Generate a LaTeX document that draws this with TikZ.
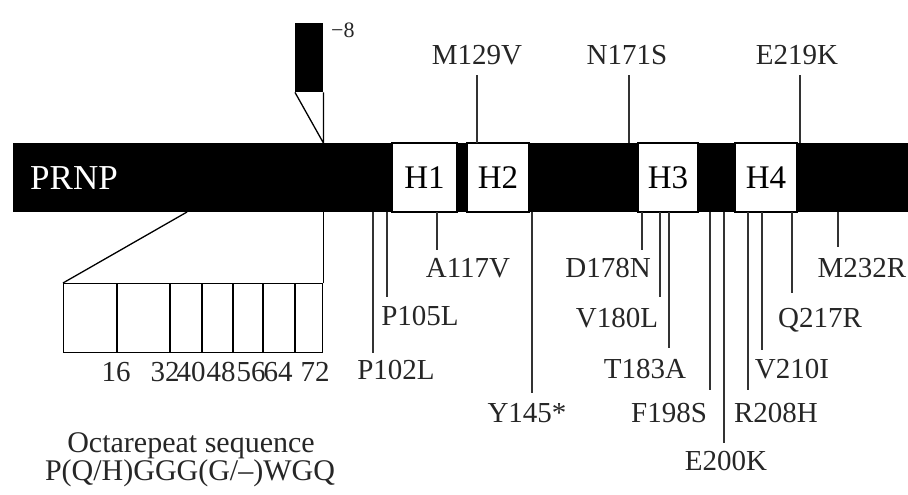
\documentclass[tikz,border=0pt]{standalone}
\usepackage{fontspec}
\setmainfont{Liberation Serif}
\tikzset{
  mutlabel/.style={inner sep=0pt, text height=20pt, text depth=0pt, text=black!85, font=\fontsize{29}{30}\selectfont},
  helix/.style={draw=black, fill=white, line width=1.5pt, minimum height=69pt, inner sep=0pt, font=\fontsize{33}{34}\selectfont},
  stalk/.style={line width=1.3pt, black!80},
  octtext/.style={inner sep=0pt, anchor=base, text height=21pt, text depth=0pt, text=black!85, font=\fontsize{30}{31}\selectfont},
}
\begin{document}
\begin{tikzpicture}[x=1pt,y=-1pt]
  \useasboundingbox (0,0) rectangle (908,495);
  % gene
  \node[fill=black, minimum width=895pt, minimum height=69pt, inner sep=0pt, anchor=north west] (bar) at (13,143) {};
  \node[text=white, inner sep=0pt, text height=22pt, text depth=0pt, font=\fontsize{35}{36}\selectfont] (prnp) at (74,178) {PRNP};
  \foreach \nm/\xa/\xb in {H1/392/457, H2/467/529, H3/638/698, H4/735/797}
    \node[helix, minimum width={\xb-\xa}] (\nm) at ({(\xa+\xb)/2},177.5) {\nm};
  % signal peptide
  \node[fill=black, minimum width=28pt, minimum height=69pt, inner sep=0pt, anchor=north west] (sig) at (295,23) {};
  \node[inner sep=0pt, text height=14pt, text depth=0pt, anchor=west, text=black!85, font=\fontsize{22}{23}\selectfont] (sigpos) at (331,31) {−8};
  \draw[line width=1.3pt] (sig.south west) -- (sig.south east |- bar.north) -- (sig.south east);
  % octarepeats
  \coordinate (octstart) at (187,212);
  \node[draw, line width=1.3pt, minimum width=259pt, minimum height=69pt, inner sep=0pt, anchor=north west] (oct) at (63,283) {};
  \draw[line width=1.3pt] (octstart) -- (oct.north west);
  \draw[line width=1.3pt] (oct.north east) -- (oct.north east |- bar.south);
  \foreach \x in {117,170,202,233,263,295}
    \draw[line width=1.3pt] (\x,283) -- (\x,352);
  \foreach \n/\x in {16/116,32/165,40/191,48/221,56/251,64/278,72/315}
    \node[mutlabel] (rep\n) at (\x,371) {\n};
  \node[octtext] (octname) at (191,452) {Octarepeat sequence};
  \node[octtext, text depth=5pt] (octseq) at (190,480) {P(Q/H)GGG(G/–)WGQ};
  % mutations above
  \foreach \nm/\x/\lx in {M129V/477/477, N171S/629/627, E219K/800/797}{
    \node[mutlabel] (\nm) at (\lx,55) {\nm};
    \coordinate (\nm-top) at (\x,143);
    \coordinate (\nm-end) at (\x,75);
    \draw[stalk] (\nm-top) -- (\nm-end);
  }
  % mutations below
  \foreach \nm/\txt/\x/\ye/\lx/\ly in {
      P102L/P102L/373/353/396/369, P105L/P105L/387/297/420/315,
      A117V/A117V/437/250/468/267, Y145/Y145*/532/393/527/412,
      D178N/D178N/642/250/608/267, V180L/V180L/660/297/617/317,
      T183A/T183A/669/348/645/368, F198S/F198S/710/390/669/412,
      E200K/E200K/724/443/726/460, R208H/R208H/748/390/776/412,
      V210I/V210I/762/350/792/368, Q217R/Q217R/792/293/820/317,
      M232R/M232R/838/247/862/267}{
    \node[mutlabel] (\nm) at (\lx,\ly) {\txt};
    \coordinate (\nm-top) at (\x,212);
    \coordinate (\nm-end) at (\x,\ye);
    \draw[stalk] (\nm-top) -- (\nm-end);
  }
\end{tikzpicture}
\end{document}
